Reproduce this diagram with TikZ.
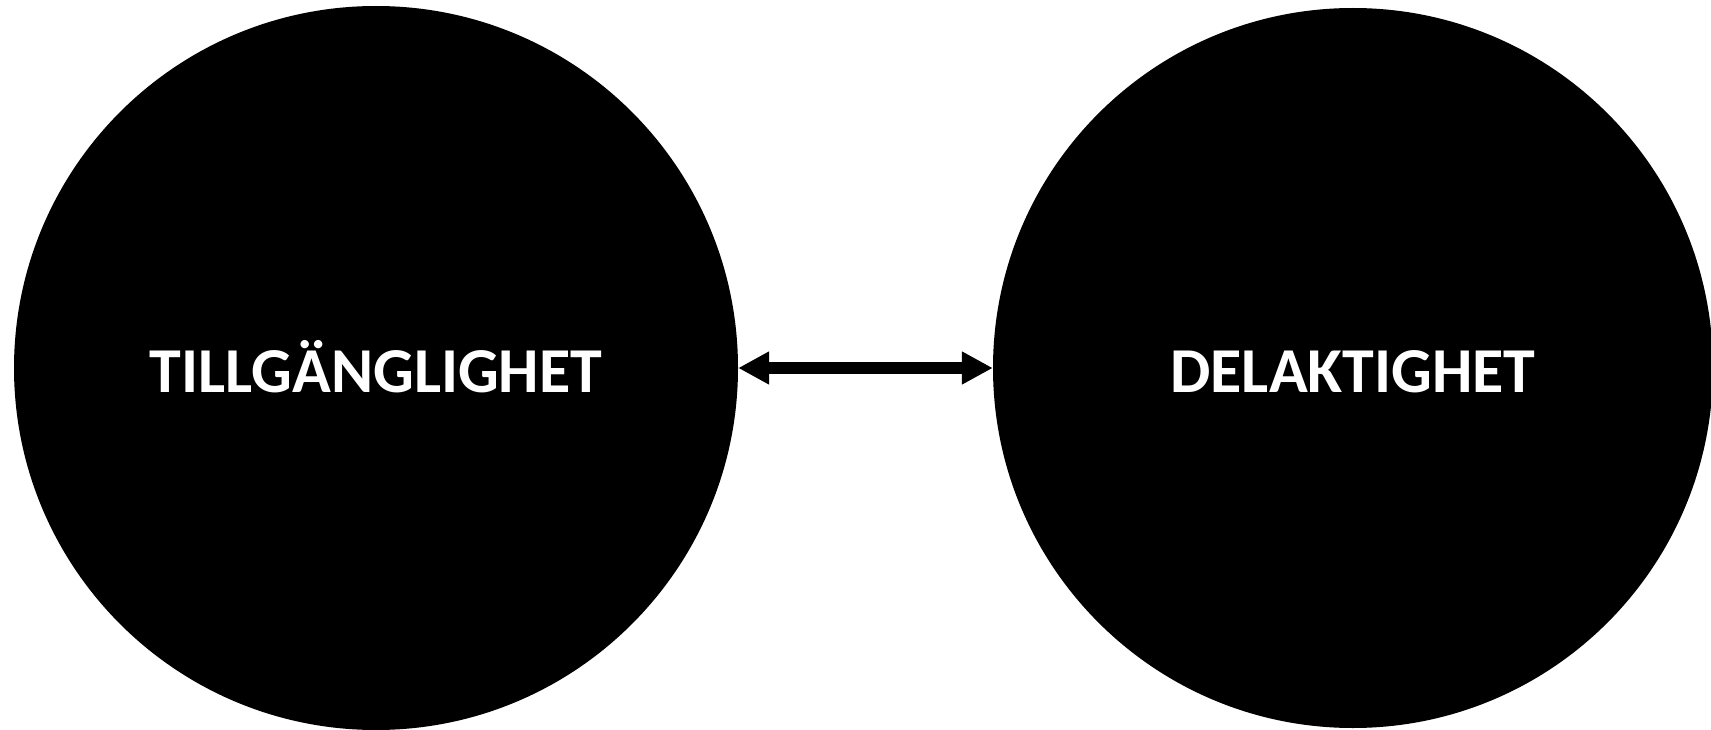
\documentclass[tikz,border=0pt]{standalone}
\usepackage{fontspec}
\newfontfamily\calib{Carlito}
\usetikzlibrary{arrows.meta}
\begin{document}
\begin{tikzpicture}[x=1pt,y=-1pt,
  bubble/.style={circle,fill=black,inner sep=0pt,minimum size=#1,
    text=white,font=\calib\bfseries\fontsize{64}{64}\selectfont,
    text height=48pt,text depth=0pt},
  link/.style={line width=12pt,{Triangle[length=31pt,width=31pt]}-{Triangle[length=31pt,width=31pt]}}]
\useasboundingbox (0,0) rectangle (1711,730);
\clip (0,0) rectangle (1711,730);
\node[bubble=724pt] (L) at (376,368) {TILLGÄNGLIGHET};
\node[bubble=720pt] (R) at (1353,368) {DELAKTIGHET};
\draw[link] (L.east) -- (R.west);
\end{tikzpicture}
\end{document}
